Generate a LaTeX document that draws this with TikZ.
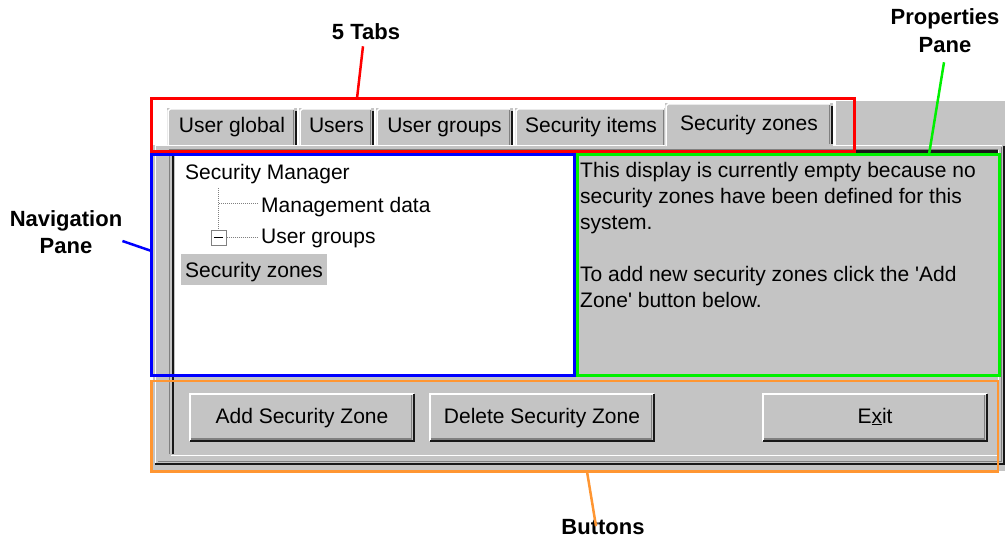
\documentclass[tikz,border=0pt]{standalone}
\usepackage{fontspec}
\setmainfont{Liberation Sans}
\usetikzlibrary{calc}

\definecolor{winbg}{RGB}{196,196,196}
\definecolor{winshadow}{RGB}{128,128,128}
\definecolor{windark}{RGB}{24,24,24}
\definecolor{calloutorange}{RGB}{255,150,50}
\definecolor{calloutgreen}{RGB}{0,240,0}
\definecolor{calloutblue}{RGB}{0,0,255}
\definecolor{calloutred}{RGB}{255,0,0}

\tikzset{
  ui/.style={font=\fontsize{21}{26}\selectfont, text=black, inner sep=0pt},
  callout/.style={font=\fontsize{22}{27}\selectfont\bfseries, align=center, inner sep=0pt},
  tabshape/.style={fill=winbg, inner sep=0pt, outer sep=0pt, anchor=south west,
    text height=15pt, text depth=4pt, font=\fontsize{21}{26}\selectfont},
  button/.style={fill=winbg, inner sep=0pt, outer sep=0pt, minimum width=226pt, minimum height=49pt,
    text height=15pt, text depth=4pt, font=\fontsize{21}{26}\selectfont},
  hiedge/.style={draw=white, line width=1.5pt},
  shedge/.style={draw=winshadow, line width=1.5pt},
  dkedge/.style={draw=windark, line width=2pt},
  markbox/.style={draw=#1, line width=3pt, inner sep=0pt, outer sep=0pt, anchor=north west},
  leader/.style={draw=#1, line width=2.5pt},
  treeline/.style={draw=winshadow, line width=1pt, dash pattern=on 1pt off 1pt},
}

\begin{document}
\begin{tikzpicture}[x=1pt,y=-1pt]
\useasboundingbox (0,0) rectangle (1006,541);

% window body
\fill[winbg] (153,145) rectangle (1005,471);
\fill[winbg] (836,101) rectangle (1005,146);

% unselected tabs
\node[tabshape, minimum width=130pt, minimum height=37pt] (tab1) at (167,145) {User global};
\node[tabshape, minimum width=75pt,  minimum height=37pt] (tab2) at (299,145) {Users};
\node[tabshape, minimum width=137pt, minimum height=37pt] (tab3) at (376,145) {User groups};
\node[tabshape, minimum width=152pt, minimum height=37pt] (tab4) at (515,145) {Security items};
\foreach \t in {tab1,tab2,tab3,tab4}{
  \draw[hiedge] ([xshift=1pt]\t.south west) -- ([shift={(1pt,-3pt)}]\t.north west)
      -- ([shift={(3.5pt,-0.75pt)}]\t.north west) -- ([shift={(-3pt,-0.75pt)}]\t.north east);
  \draw[shedge] ([xshift=-3.5pt]\t.south east) -- ([shift={(-3.5pt,-2pt)}]\t.north east);
  \draw[dkedge] ([xshift=-1pt]\t.south east) -- ([shift={(-1pt,-2.5pt)}]\t.north east);
}

% tab page frame
\draw[white, line width=1.5pt] (155,145.5) -- (1002,145.5);
\draw[white, line width=1.5pt] (155.5,145) -- (155.5,463);
\draw[winshadow, line width=1.5pt] (158,461.5) -- (1001.5,461.5) -- (1001.5,147);
\draw[windark, line width=2pt] (155,464) -- (1004,464) -- (1004,146);

% selected tab
\node[tabshape, minimum width=168pt, minimum height=44pt] (tab5) at (665,147) {Security zones};
\draw[hiedge] ([shift={(1pt,1pt)}]tab5.south west) -- ([shift={(1pt,-3pt)}]tab5.north west)
    -- ([shift={(3.5pt,-0.75pt)}]tab5.north west) -- ([shift={(-3pt,-0.75pt)}]tab5.north east);
\draw[shedge] ([shift={(-3.5pt,3pt)}]tab5.south east) -- ([shift={(-3.5pt,-2pt)}]tab5.north east);
\draw[dkedge] ([shift={(-1pt,3pt)}]tab5.south east) -- ([shift={(-1pt,-2.5pt)}]tab5.north east);

% sunken client area
\draw[winshadow, line width=1.5pt] (169.5,454) -- (169.5,149.5) -- (998,149.5);
\draw[windark, line width=2.5pt] (173,454) -- (173,151.5) -- (998,151.5);
\draw[white, line width=1.5pt] (171,455.5) -- (998.5,455.5) -- (998.5,150);

% navigation tree
\fill[white] (175,153) rectangle (574,376);
\node[ui, anchor=base west] (sm) at (185,179) {Security Manager};
\node[ui, anchor=base west] (md) at (261,212) {Management data};
\node[ui, anchor=base west] (ug) at (261,243) {User groups};
\node[ui, anchor=base west, fill=winbg, text height=23pt, text depth=8pt, inner xsep=4pt] (sz) at (181,277) {Security zones};
\node[draw=winshadow, fill=white, line width=1pt, minimum size=15pt, inner sep=0pt] (ugbox) at (218.5,237.5) {};
\draw[line width=1pt] ([xshift=-4.5pt]ugbox.center) -- ([xshift=4.5pt]ugbox.center);
\draw[treeline] (218.5,188) -- (ugbox.north);
\draw[treeline] (219,203.5) -- (258,203.5);
\draw[treeline] (ugbox.east) -- (258,237.5);

% properties text
\node[ui, anchor=base west] (p1) at (580,177) {This display is currently empty because no};
\node[ui, anchor=base west] (p2) at (580,203) {security zones have been defined for this};
\node[ui, anchor=base west] (p3) at (580,229) {system.};
\node[ui, anchor=base west] (p4) at (580,281) {To add new security zones click the \textquotesingle Add};
\node[ui, anchor=base west] (p5) at (580,307) {Zone\textquotesingle{} button below.};

% buttons
\node[button] (addbtn)  at (302,417.5) {Add Security Zone};
\node[button] (delbtn)  at (542,417.5) {Delete Security Zone};
\node[button] (exitbtn) at (875,417.5) {E\underline{x}it};
\foreach \b in {addbtn,delbtn,exitbtn}{
  \draw[hiedge] ([shift={(0.75pt,1pt)}]\b.south west) -- ([shift={(0.75pt,-0.75pt)}]\b.north west)
      -- ([shift={(-1pt,-0.75pt)}]\b.north east);
  \draw[shedge] ([shift={(2pt,3pt)}]\b.south west) -- ([shift={(-3.5pt,3pt)}]\b.south east)
      -- ([shift={(-3.5pt,-2pt)}]\b.north east);
  \draw[dkedge] ([shift={(1pt,1pt)}]\b.south west) -- ([shift={(-1pt,1pt)}]\b.south east)
      -- ([shift={(-1pt,-1pt)}]\b.north east);
}

% highlighted regions
\node[markbox=calloutred,   minimum width=703pt,   minimum height=53pt]   (tabsbox) at (151.5,98.5) {};
\node[markbox=calloutblue,  minimum width=423pt,   minimum height=221pt]  (navbox)  at (151.5,154.5) {};
\node[markbox=calloutgreen, minimum width=422.5pt, minimum height=220.5pt](propbox) at (577,154.5) {};
\node[markbox=calloutorange, line width=2.5pt, minimum width=846.5pt, minimum height=90.5pt] (btnbox) at (151.5,381) {};

% callout labels
\node[callout] (tabslbl) at (366,31.5) {5 Tabs};
\node[callout, font=\fontsize{22}{28}\selectfont\bfseries] (proplbl) at (945,31) {Properties\\Pane};
\node[callout] (navlbl) at (66,232.5) {Navigation\\Pane};
\node[callout] (btnlbl) at (603,527.5) {Buttons};

% leader lines
\draw[leader=calloutred]    ([shift={(-3pt,-6.5pt)}]tabslbl.south) -- ([xshift=205.5pt]tabsbox.north west);
\draw[leader=calloutgreen]  ([shift={(-1pt,-9pt)}]proplbl.south) -- ([xshift=352pt]propbox.north west);
\draw[leader=calloutblue]   ([shift={(0pt,-8.5pt)}]navlbl.east) -- ([yshift=-96.5pt]navbox.north west);
\draw[leader=calloutorange] ([shift={(-7pt,-6.5pt)}]btnlbl.north) -- ([shift={(435.5pt,-90.5pt)}]btnbox.north west);
\end{tikzpicture}
\end{document}
